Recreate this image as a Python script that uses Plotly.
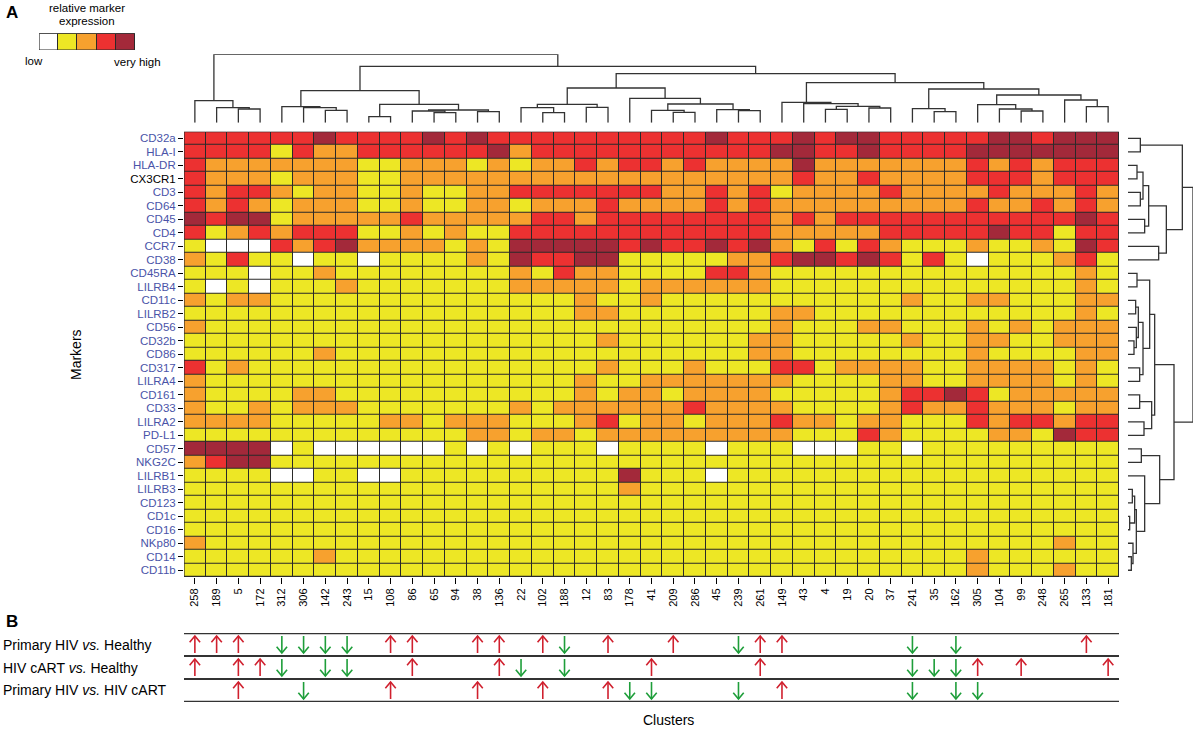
import plotly.graph_objects as go

W, H = 1196, 735

clusters = ["258","189","5","172","312","306","142","243","15","108","86","65","94","38","136",
            "22","102","188","12","83","178","41","209","286","45","239","261","149","43",
            "4","19","20","37","241","35","162","305","104","99","248","265","133","181"]
markers = ["CD32a","HLA-I","HLA-DR","CX3CR1","CD3","CD64","CD45","CD4","CCR7","CD38","CD45RA",
           "LILRB4","CD11c","LILRB2","CD56","CD32b","CD86","CD317","LILRA4","CD161","CD33","LILRA2",
           "PD-L1","CD57","NKG2C","LILRB1","LILRB3","CD123","CD1c","CD16","NKp80","CD14","CD11b"]

# expression level per marker (0 low ... 4 very high), one value per cluster
lv_CD32a  = [3,3,3,3,3,3,4,3,3,3,3,4,3,4,3, 3,3,3,3,3,3,3,3,3,4,3,3,3,4, 3,4,4,3,3,3,3,3,4,4,3,4,4,4]
lv_HLA_I  = [3,3,3,3,1,3,2,2,3,3,3,3,3,3,4, 2,3,3,3,3,3,3,3,3,3,3,3,4,4, 3,3,4,3,3,3,3,4,4,4,4,4,4,4]
lv_HLA_DR = [3,2,2,2,2,2,2,2,1,1,2,2,2,1,2, 1,2,2,3,2,3,3,2,3,2,2,2,2,4, 2,2,2,2,2,2,2,3,2,3,2,3,3,3]
lv_CX3CR1 = [3,2,2,2,1,2,2,2,1,1,2,2,2,2,2, 2,2,2,2,2,2,2,2,2,2,2,2,2,3, 2,2,3,2,2,2,2,3,3,3,2,3,3,3]
lv_CD3    = [3,2,3,3,2,1,2,2,1,1,2,1,1,2,2, 3,3,3,3,3,3,3,2,2,3,2,3,1,2, 2,2,2,3,2,2,2,2,3,2,2,2,3,2]
lv_CD64   = [3,2,3,2,1,2,2,2,1,1,2,1,1,2,2, 1,2,2,2,3,2,2,2,2,3,2,3,2,2, 2,2,2,2,2,2,2,3,2,2,3,2,3,2]
lv_CD45   = [4,3,4,4,1,2,2,2,2,2,3,2,2,2,2, 2,3,3,2,3,3,3,3,3,3,3,3,2,3, 2,3,3,3,3,3,3,3,3,3,3,3,4,3]
lv_CD4    = [3,1,2,3,2,3,3,3,1,1,2,1,2,1,1, 3,3,3,3,3,3,3,3,3,3,3,3,2,2, 2,2,2,3,3,3,3,3,4,3,3,1,3,3]
lv_CCR7   = [1,0,0,0,3,2,3,4,2,2,2,2,1,2,1, 4,4,4,4,4,3,4,3,3,4,3,4,2,1, 3,1,3,2,1,1,1,2,1,1,2,1,4,3]
lv_CD38   = [2,1,3,1,1,0,1,1,0,1,1,1,1,2,1, 4,3,3,4,4,1,1,1,1,1,2,2,3,4, 4,3,4,3,1,3,1,0,1,1,1,2,3,1]
lv_CD45RA = [1,1,1,0,1,1,2,1,1,1,1,1,1,1,1, 2,1,3,2,2,1,1,1,1,3,3,2,1,1, 1,1,1,1,1,1,1,1,1,1,1,1,2,1]
lv_LILRB4 = [1,0,1,0,1,1,1,2,1,1,1,1,1,1,1, 2,2,2,2,2,1,2,2,2,2,2,2,1,1, 1,1,1,1,1,1,1,1,1,1,1,1,2,1]
lv_CD11c  = [2,1,2,2,1,1,1,1,1,1,1,1,1,1,1, 1,1,1,2,1,1,2,1,1,1,1,1,1,1, 1,1,1,1,2,1,1,2,2,1,1,1,2,2]
lv_LILRB2 = [1,1,1,1,1,1,1,1,1,1,1,1,1,1,1, 1,1,1,2,2,1,1,1,1,1,1,1,2,2, 1,1,1,1,1,1,1,1,1,1,1,1,2,1]
lv_CD56   = [2,1,1,1,1,1,1,1,1,1,1,1,1,1,1, 1,1,1,1,1,1,1,1,1,1,1,1,2,1, 1,1,2,2,1,1,1,2,1,2,1,2,2,2]
lv_CD32b  = [1,1,1,1,1,1,1,1,1,1,1,1,1,1,1, 1,1,1,1,2,1,1,1,1,1,1,2,2,1, 1,1,1,1,2,1,1,2,2,1,1,2,2,2]
lv_CD86   = [1,1,1,1,1,1,2,1,1,1,1,1,1,1,1, 1,1,1,1,1,1,1,1,1,1,1,2,2,1, 1,1,1,1,1,1,1,2,1,1,1,1,2,2]
lv_CD317  = [3,1,2,1,1,1,1,1,1,1,1,1,1,1,1, 1,1,1,1,2,1,1,1,2,1,1,1,3,3, 1,2,2,2,2,1,1,2,2,2,2,1,2,1]
lv_LILRA4 = [2,1,1,1,1,1,1,1,1,1,1,1,1,1,1, 1,1,1,2,1,1,2,2,2,2,2,2,2,1, 1,1,1,2,2,1,1,2,2,2,2,1,2,1]
lv_CD161  = [2,1,1,1,1,2,2,1,1,1,1,1,1,1,1, 1,1,1,2,1,2,2,1,2,2,2,2,1,1, 1,1,1,2,3,3,4,3,1,2,2,2,2,2]
lv_CD33   = [2,1,1,2,1,2,2,2,1,1,1,1,1,1,1, 2,1,2,2,2,2,2,2,3,2,2,2,2,1, 1,1,1,2,3,2,2,3,2,2,2,1,2,2]
lv_LILRA2 = [2,2,2,2,1,1,1,1,1,2,2,1,2,2,2, 1,1,1,2,3,1,2,2,1,2,2,2,3,2, 2,1,2,2,1,1,1,3,2,3,3,2,3,3]
lv_PD_L1  = [1,1,1,1,1,1,1,1,1,1,1,1,1,2,2, 1,2,2,1,2,2,2,2,2,2,2,2,2,1, 1,1,3,2,1,1,1,1,2,2,1,4,3,3]
lv_CD57   = [4,4,4,4,0,1,0,0,0,0,0,0,1,0,1, 0,1,1,1,0,1,1,1,1,0,1,1,1,0, 0,0,1,1,0,1,1,1,1,1,1,1,1,1]
lv_NKG2C  = [2,3,4,4,1,1,1,1,1,1,1,1,1,1,1, 1,1,1,1,1,1,1,1,1,1,1,1,1,1, 1,1,1,1,1,1,1,1,1,1,1,1,1,1]
lv_LILRB1 = [1,1,1,1,0,0,1,1,0,0,1,1,1,1,1, 1,1,1,1,1,4,1,1,1,0,1,1,1,1, 1,1,1,1,1,1,1,1,1,1,1,1,1,1]
lv_LILRB3 = [1,1,1,1,1,1,1,1,1,1,1,1,1,1,1, 1,1,1,1,1,2,1,1,1,1,1,1,1,1, 1,1,1,1,1,1,1,1,1,1,1,1,1,1]
lv_CD123  = [1,1,1,1,1,1,1,1,1,1,1,1,1,1,1, 1,1,1,1,1,1,1,1,1,1,1,1,1,1, 1,1,1,1,1,1,1,1,1,1,1,1,1,1]
lv_CD1c   = [1,1,1,1,1,1,1,1,1,1,1,1,1,1,1, 1,1,1,1,1,1,1,1,1,1,1,1,1,1, 1,1,1,1,1,1,1,1,1,1,1,1,1,1]
lv_CD16   = [1,1,1,1,1,1,1,1,1,1,1,1,1,1,1, 1,1,1,1,1,1,1,1,1,1,1,1,1,1, 1,1,1,1,1,1,1,1,1,1,1,1,1,1]
lv_NKp80  = [2,1,1,1,1,1,1,1,1,1,1,1,1,1,1, 1,1,1,1,1,1,1,1,1,1,1,1,1,1, 1,1,1,1,1,1,1,1,1,1,1,2,1,1]
lv_CD14   = [1,1,1,1,1,1,2,1,1,1,1,1,1,1,1, 1,1,1,1,1,1,1,1,1,1,1,1,1,1, 1,1,1,1,1,1,1,2,1,1,1,1,1,1]
lv_CD11b  = [1,1,1,1,1,1,1,1,1,1,1,1,1,1,1, 1,1,1,1,1,1,1,1,1,1,1,1,1,1, 1,1,1,1,1,1,1,2,1,1,1,2,1,1]

level_colors = ["#FFFFFF", "#EDE725", "#F7A12E", "#EC3131", "#A3293A"]
legend_levels = [0, 1, 2, 3, 4]

# column dendrogram linkage: (left node, right node, merge height); nodes >= 43 are earlier merges
col_linkage = [
    (2, 3, 41), (1, 43, 45), (0, 44, 66), (6, 7, 37), (5, 46, 45), (4, 47, 48),
    (8, 9, 18), (11, 12, 30), (10, 50, 35), (13, 14, 33), (51, 52, 38), (49, 53, 55),
    (48, 54, 96), (16, 17, 30), (15, 56, 45), (18, 19, 46), (57, 58, 55), (22, 23, 31),
    (21, 60, 37), (25, 26, 36), (24, 62, 39), (61, 63, 56), (20, 64, 73), (59, 65, 104),
    (29, 30, 40), (31, 32, 44), (67, 68, 49), (28, 69, 57), (27, 70, 61), (34, 35, 33),
    (33, 72, 42), (38, 39, 35), (37, 74, 41), (36, 75, 54), (41, 42, 48), (40, 77, 68),
    (76, 78, 83), (73, 79, 101), (71, 80, 120), (66, 81, 147), (55, 82, 169), (45, 83, 205),
]
# row dendrogram linkage; nodes >= 33 are earlier merges
row_linkage = [
    (0, 1, 37), (2, 3, 27), (4, 5, 37), (34, 35, 45), (6, 7, 50), (36, 37, 62),
    (8, 9, 92), (38, 39, 115), (33, 40, 163), (10, 11, 27), (15, 16, 18), (12, 13, 23),
    (14, 43, 25), (44, 45, 31), (17, 18, 35), (46, 47, 45), (42, 48, 65), (19, 20, 35),
    (21, 22, 48), (50, 51, 71), (49, 52, 80), (23, 24, 40), (26, 27, 13), (28, 29, 5),
    (55, 56, 20), (31, 32, 10), (30, 58, 15), (57, 59, 25), (25, 60, 50), (54, 61, 95),
    (53, 62, 138), (41, 63, 195),
]

comparisons = ["Primary HIV <i>vs.</i> Healthy", "HIV cART <i>vs.</i> Healthy",
               "Primary HIV <i>vs.</i> HIV cART"]
primary_vs_healthy_up = ["258","189","5","108","86","38","136","102","83","209","261","149","133"]
primary_vs_healthy_down = ["312","306","142","243","188","239","241","162"]
cart_vs_healthy_up = ["258","5","172","86","136","41","261","305","99","181"]
cart_vs_healthy_down = ["312","142","243","22","188","241","35","162"]
primary_vs_cart_up = ["5","108","38","102","83","149"]
primary_vs_cart_down = ["306","178","41","239","241","162","305"]

z = [lv_CD32a, lv_HLA_I, lv_HLA_DR, lv_CX3CR1, lv_CD3, lv_CD64, lv_CD45, lv_CD4, lv_CCR7,
     lv_CD38, lv_CD45RA, lv_LILRB4, lv_CD11c, lv_LILRB2, lv_CD56, lv_CD32b, lv_CD86, lv_CD317,
     lv_LILRA4, lv_CD161, lv_CD33, lv_LILRA2, lv_PD_L1, lv_CD57, lv_NKG2C, lv_LILRB1, lv_LILRB3,
     lv_CD123, lv_CD1c, lv_CD16, lv_NKp80, lv_CD14, lv_CD11b]

n_lv = len(level_colors)
cscale = []
for i, c in enumerate(level_colors):
    cscale.append([i / n_lv, c])
    cscale.append([(i + 1) / n_lv, c])


def dendro_lines(linkage, n):
    pos = list(range(n))
    hts = [0.0] * n
    xs, ys = [], []
    for a, b, h in linkage:
        xs += [pos[a], pos[a], pos[b], pos[b], None]
        ys += [hts[a], h, h, hts[b], None]
        pos.append((pos[a] + pos[b]) / 2)
        hts.append(h)
    return xs, ys


def arrow_paths(labels, yrow, direction):
    # stem + open chevron head, in axis units (x: cluster index, y: comparison row)
    half, hw, hh = 0.37, 0.24, 0.27
    xs, ys = [], []
    for lab in labels:
        xc = clusters.index(lab)
        tip = yrow + direction * half
        tail = yrow - direction * half
        xs += [xc, xc, None, xc - hw, xc, xc + hw, None]
        ys += [tail, tip, None, tip - direction * hh, tip, tip - direction * hh, None]
    return xs, ys


def px_x(v):
    return v / W


def px_y(v):
    return 1 - v / H


fig = go.Figure()

# main heatmap
fig.add_trace(go.Heatmap(
    z=z, x=clusters, y=markers, colorscale=cscale, zmin=-0.5, zmax=n_lv - 0.5,
    showscale=False, xgap=1, ygap=1, hoverinfo="skip", xaxis="x", yaxis="y"))

# column dendrogram
cx, cy = dendro_lines(col_linkage, len(clusters))
fig.add_trace(go.Scatter(x=cx, y=cy, mode="lines", line=dict(color="#333333", width=1.3),
                         xaxis="x2", yaxis="y2", hoverinfo="skip"))
# row dendrogram
rx, ry = dendro_lines(row_linkage, len(markers))
fig.add_trace(go.Scatter(x=ry, y=rx, mode="lines", line=dict(color="#333333", width=1.3),
                         xaxis="x3", yaxis="y3", hoverinfo="skip"))

# arrows panel
arrow_sets = [
    (primary_vs_healthy_up, primary_vs_healthy_down),
    (cart_vs_healthy_up, cart_vs_healthy_down),
    (primary_vs_cart_up, primary_vs_cart_down),
]
for i, (ups, downs) in enumerate(arrow_sets):
    yrow = len(arrow_sets) - i - 0.5
    ux, uy = arrow_paths(ups, yrow, 1)
    fig.add_trace(go.Scatter(x=ux, y=uy, mode="lines", line=dict(color="#D0202E", width=1.6),
                             xaxis="x4", yaxis="y4", hoverinfo="skip"))
    dx, dy = arrow_paths(downs, yrow, -1)
    fig.add_trace(go.Scatter(x=dx, y=dy, mode="lines", line=dict(color="#1E9E3A", width=1.6),
                             xaxis="x4", yaxis="y4", hoverinfo="skip"))

# colour key
fig.add_trace(go.Heatmap(z=[legend_levels], colorscale=cscale, zmin=-0.5, zmax=n_lv - 0.5,
                         showscale=False, xgap=1, hoverinfo="skip", xaxis="x5", yaxis="y5"))

hx0, hx1 = 184, 1119
hy0, hy1 = 131.7, 577

ytext = ["<span style='color:black'>%s</span>" % m if m == "CX3CR1" else m for m in markers]

fig.update_layout(
    width=W, height=H, margin=dict(l=0, r=0, t=0, b=0),
    paper_bgcolor="white", plot_bgcolor="white", showlegend=False,
    font=dict(family="Liberation Sans, Arial, sans-serif", size=12, color="black"),
    xaxis=dict(domain=[px_x(hx0), px_x(hx1)], anchor="y", type="category",
               categoryorder="array", categoryarray=clusters, range=[-0.5, len(clusters) - 0.5],
               tickangle=-90, ticks="outside", ticklen=6, tickcolor="black",
               tickfont=dict(size=11, color="black"), showgrid=False, zeroline=False),
    yaxis=dict(domain=[px_y(hy1), px_y(hy0)], anchor="x", type="category",
               categoryorder="array", categoryarray=markers, range=[len(markers) - 0.5, -0.5],
               tickvals=markers, ticktext=ytext, ticks="outside", ticklen=5, tickcolor="black",
               tickfont=dict(size=11.5, color="#4A54A8"), showgrid=False, zeroline=False),
    xaxis2=dict(domain=[px_x(hx0), px_x(hx1)], anchor="y2", range=[-0.5, len(clusters) - 0.5],
                visible=False),
    yaxis2=dict(domain=[px_y(122.7), px_y(54.3)], anchor="x2", range=[0, 205], visible=False),
    xaxis3=dict(domain=[px_x(1128), px_x(1193)], anchor="y3", range=[0, 195], visible=False),
    yaxis3=dict(domain=[px_y(hy1), px_y(hy0)], anchor="x3", range=[len(markers) - 0.5, -0.5],
                visible=False),
    xaxis4=dict(domain=[px_x(hx0), px_x(hx1)], anchor="y4", range=[-0.5, len(clusters) - 0.5],
                visible=False),
    yaxis4=dict(domain=[px_y(702), px_y(633)], anchor="x4", range=[0, 3], visible=False),
    xaxis5=dict(domain=[px_x(39), px_x(135)], anchor="y5", range=[-0.5, 4.5], visible=False),
    yaxis5=dict(domain=[px_y(50), px_y(33.3)], anchor="x5", range=[-0.5, 0.5], visible=False),
)

shapes = [
    dict(type="rect", xref="x", yref="y", x0=-0.5, x1=len(clusters) - 0.5, y0=-0.5,
         y1=len(markers) - 0.5, fillcolor="#2a2a2a", line=dict(width=0), layer="below"),
    dict(type="rect", xref="x", yref="y", x0=-0.5, x1=len(clusters) - 0.5, y0=-0.5,
         y1=len(markers) - 0.5, line=dict(color="#2a2a2a", width=1.2), layer="above"),
    dict(type="rect", xref="x5", yref="y5", x0=-0.5, x1=4.5, y0=-0.5, y1=0.5,
         fillcolor="#2a2a2a", line=dict(width=0), layer="below"),
    dict(type="rect", xref="x5", yref="y5", x0=-0.5, x1=4.5, y0=-0.5, y1=0.5,
         line=dict(color="#2a2a2a", width=1.2), layer="above"),
]
for k in range(4):
    shapes.append(dict(type="line", xref="x4", yref="y4", x0=-0.5, x1=len(clusters) - 0.5,
                       y0=k, y1=k, line=dict(color="#333333", width=2.5 if k in (0, 3) else 2)))
fig.update_layout(shapes=shapes)

ann = [
    dict(text="<b>A</b>", x=px_x(4), y=px_y(13), font=dict(size=17)),
    dict(text="<b>B</b>", x=px_x(4), y=px_y(621), font=dict(size=17)),
    dict(text="relative marker", x=px_x(87), y=px_y(8), xanchor="center", font=dict(size=11.5)),
    dict(text="expression", x=px_x(87), y=px_y(21), xanchor="center", font=dict(size=11.5)),
    dict(text="low", x=px_x(34), y=px_y(61), xanchor="center", font=dict(size=11.5)),
    dict(text="very high", x=px_x(137), y=px_y(62), xanchor="center", font=dict(size=11.5)),
    dict(text="Markers", x=px_x(76), y=px_y(355), xanchor="center", textangle=-90,
         font=dict(size=14)),
    dict(text="Clusters", x=px_x(668), y=px_y(720), xanchor="center", font=dict(size=14)),
]
for i, lab in enumerate(comparisons):
    ann.append(dict(text=lab, x=px_x(1), y=px_y(645 + 22.5 * i), font=dict(size=14)))
for a in ann:
    a.setdefault("xanchor", "left")
    a.update(xref="paper", yref="paper", yanchor="middle", showarrow=False)
fig.update_layout(annotations=ann)

fig.write_html("out.html", config={"displayModeBar": False},
               post_script="document.body.style.margin='0';document.body.style.overflow='hidden';")
